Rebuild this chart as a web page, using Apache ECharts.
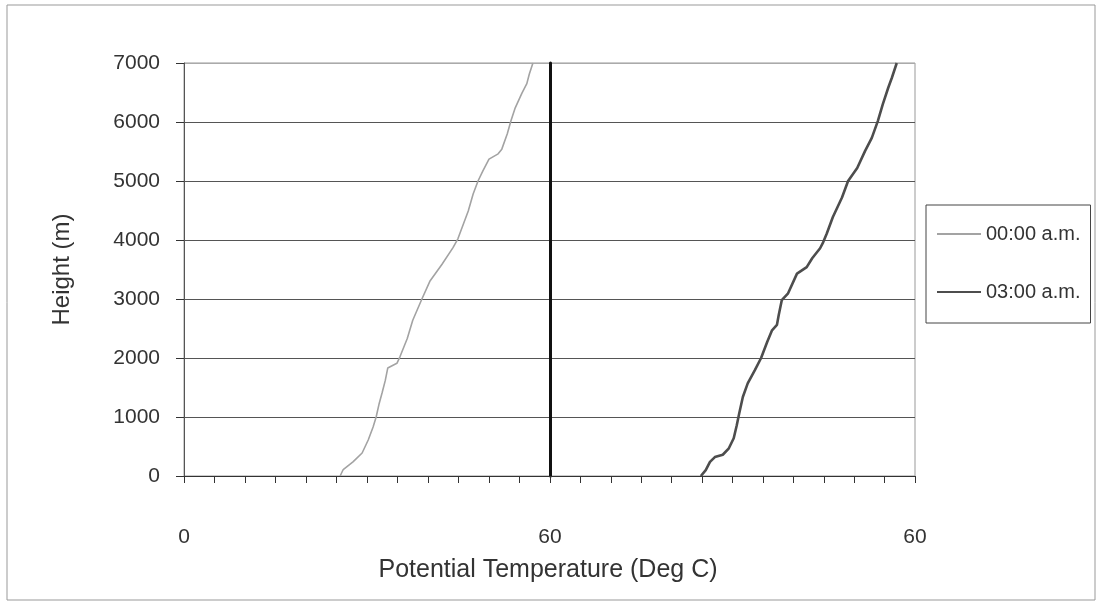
<!DOCTYPE html>
<html>
<head>
<meta charset="utf-8">
<title>Potential Temperature Profile</title>
<script src="https://cdn.jsdelivr.net/npm/echarts@6/dist/echarts.min.js"></script>
<style>
  html, body { margin: 0; padding: 0; background: #fff; }
  #chart { width: 1096px; height: 605px; }
</style>
</head>
<body>
<div id="chart"></div>
<script>
// Sounding at 00:00 a.m. : height (m) and potential temperature (Deg C)
const heights00 = [0, 110, 240, 390, 610, 830, 1000, 1230, 1420, 1620, 1830, 1910, 2020, 2330, 2640, 3000,
  3300, 3590, 3870, 4020, 4490, 4780, 5000, 5170, 5370, 5460, 5540, 5800, 6020, 6240, 6490, 6650, 6810, 7000];
const temps00 = [25.6, 26.1, 27.7, 29.2, 30.2, 31.0, 31.5, 32.0, 32.5, 33.0, 33.4, 34.9, 35.4, 36.6, 37.5, 39.0,
  40.3, 42.3, 44.1, 44.9, 46.6, 47.4, 48.2, 49.0, 50.0, 51.5, 52.1, 53.0, 53.6, 54.3, 55.4, 56.2, 56.6, 57.2];

// Sounding at 03:00 a.m.
const heights03 = [0, 100, 240, 320, 360, 470, 640, 860, 1060, 1340, 1570, 1800, 2000, 2270, 2470, 2560, 2730,
  2980, 3090, 3430, 3540, 3690, 3860, 3960, 4110, 4390, 4720, 5000, 5220, 5510, 5730, 6020, 6300, 6580, 6750, 7000];
const temps03 = [24.8, 25.6, 26.3, 27.1, 28.4, 29.4, 30.2, 30.7, 31.1, 31.7, 32.5, 33.7, 34.7, 35.7, 36.5, 37.3, 37.6,
  38.1, 39.1, 40.6, 42.2, 43.1, 44.4, 44.9, 45.5, 46.5, 48.0, 49.0, 50.5, 51.8, 52.9, 53.9, 54.7, 55.6, 56.2, 57.0];

const seriesNames = ['00:00 a.m.', '03:00 a.m.'];
const xTickLabels = [0, 60];          // labelled temperatures on each panel
const heightRange = [0, 7000, 1000];  // min, max, step
const tempRange = [0, 60, 5];

const pairs = (xs, ys) => xs.map((x, i) => [x, ys[i]]);

const FONT = '"Liberation Sans", Arial, sans-serif';
const TXT = '#333';

const chart = echarts.init(document.getElementById('chart'), null, { renderer: 'canvas' });

// the topmost rule doubles as the plot frame, drawn lighter
const splitColors = ['#555', '#555', '#555', '#555', '#555', '#555', '#555', '#aaa'];

const xAxisBase = {
  type: 'value',
  min: tempRange[0], max: tempRange[1], interval: tempRange[2],
  axisLine: { show: true, lineStyle: { color: '#333', width: 1 } },
  axisTick: { show: true, length: 7, lineStyle: { color: '#333' } },
  splitLine: { show: false },
  axisLabel: {
    margin: 51, fontSize: 21, color: TXT, fontFamily: FONT,
    formatter: v => (xTickLabels.indexOf(v) >= 0 ? String(v) : '')
  }
};

chart.setOption({
  animation: false,
  backgroundColor: '#fff',
  title: {
    text: 'Potential Temperature (Deg C)',
    left: 'center', top: 553,
    textStyle: { fontSize: 25, fontWeight: 'normal', color: TXT, fontFamily: FONT }
  },
  legend: {
    orient: 'vertical',
    left: 926, top: 205,
    padding: [19, 10, 21, 10],
    itemGap: 38, itemWidth: 44, itemHeight: 14,
    borderColor: '#444', borderWidth: 1,
    itemStyle: { opacity: 0 },
    textStyle: { fontSize: 20, color: TXT, fontFamily: FONT },
    data: seriesNames
  },
  graphic: [{
    type: 'rect', shape: { x: 7, y: 5, width: 1088, height: 595 },
    style: { fill: 'none', stroke: '#999', lineWidth: 1 }, silent: true, z: -1
  }],
  grid: [
    { left: 184, right: 546, top: 63, bottom: 129, show: true, borderColor: '#999', borderWidth: 1 },
    { left: 550, right: 181, top: 63, bottom: 129, show: true, borderColor: '#999', borderWidth: 1 }
  ],
  xAxis: [
    Object.assign({ gridIndex: 0 }, xAxisBase),
    Object.assign({ gridIndex: 1 }, xAxisBase, {
      axisLabel: Object.assign({}, xAxisBase.axisLabel, { showMinLabel: false })
    })
  ],
  yAxis: [
    {
      gridIndex: 0, type: 'value',
      min: heightRange[0], max: heightRange[1], interval: heightRange[2],
      name: 'Height (m)', nameLocation: 'middle', nameGap: 110, nameRotate: 90,
      nameTextStyle: { fontSize: 24, color: TXT, fontFamily: FONT },
      axisLine: { show: true, lineStyle: { color: '#555', width: 1 } },
      axisTick: { show: true, length: 8, lineStyle: { color: '#333' } },
      axisLabel: { margin: 24, fontSize: 21, color: TXT, fontFamily: FONT, formatter: v => String(v) },
      splitLine: { show: true, lineStyle: { color: splitColors, width: 1 } }
    },
    {
      gridIndex: 1, type: 'value',
      min: heightRange[0], max: heightRange[1], interval: heightRange[2],
      axisLine: { show: true, lineStyle: { color: '#111', width: 3 } },
      axisTick: { show: false },
      axisLabel: { show: false },
      splitLine: { show: true, lineStyle: { color: splitColors, width: 1 } }
    }
  ],
  series: [
    {
      name: seriesNames[0], type: 'line', xAxisIndex: 0, yAxisIndex: 0,
      symbol: 'none', z: 3,
      lineStyle: { color: '#a3a3a3', width: 1.6 }, itemStyle: { color: '#a3a3a3' },
      data: pairs(temps00, heights00)
    },
    {
      name: seriesNames[1], type: 'line', xAxisIndex: 1, yAxisIndex: 1,
      symbol: 'none', z: 3,
      lineStyle: { color: '#4d4d4d', width: 2.6 }, itemStyle: { color: '#4d4d4d' },
      data: pairs(temps03, heights03)
    }
  ]
});
</script>
</body>
</html>
